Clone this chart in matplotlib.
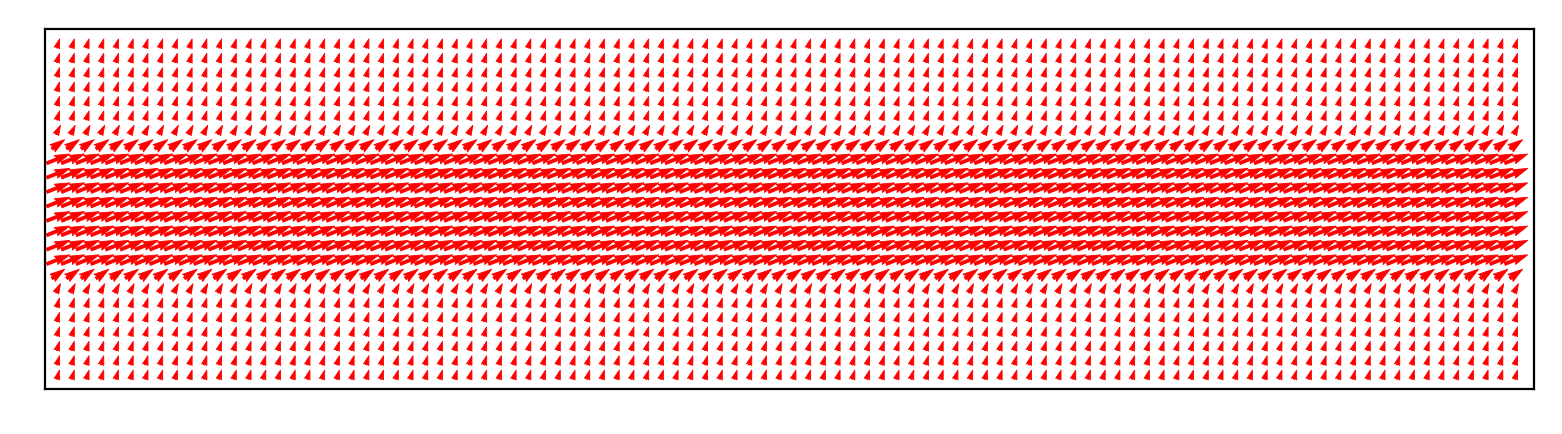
import numpy as np
import matplotlib
matplotlib.use('Agg')
import matplotlib.pyplot as plt

# grid of arrow positions
n_cols = 100
n_rows = 24
x_pos = np.arange(n_cols)
y_pos = np.arange(n_rows)

# horizontal velocity per row (bottom -> top), vertical velocity is constant
u_rows = [0.3, 0.3, 0.3, 0.3, 0.3, 0.3, 0.5, 1.4,
          2.5, 2.5, 2.5, 2.5, 2.5, 2.5, 2.5, 2.5,
          1.4, 0.5, 0.3, 0.3, 0.3, 0.3, 0.3, 0.3]
v_const = 1.0

X, Y = np.meshgrid(x_pos, y_pos)
U = np.tile(np.array(u_rows)[:, None], (1, n_cols))
V = np.full_like(U, v_const)

fig = plt.figure(figsize=(7.81, 2.175), dpi=200)
ax = fig.add_axes([0.0288, 0.1034, 0.9532, 0.8276])
ax.quiver(X, Y, U, V, color='red', edgecolor='red', linewidth=0.3,
          pivot='middle', scale_units='xy', scale=1.6, width=0.002)
ax.set_xlim(-0.9, 100.2)
ax.set_ylim(-1, 24)
ax.set_xticks([])
ax.set_yticks([])
plt.savefig('out.png', dpi=200)
